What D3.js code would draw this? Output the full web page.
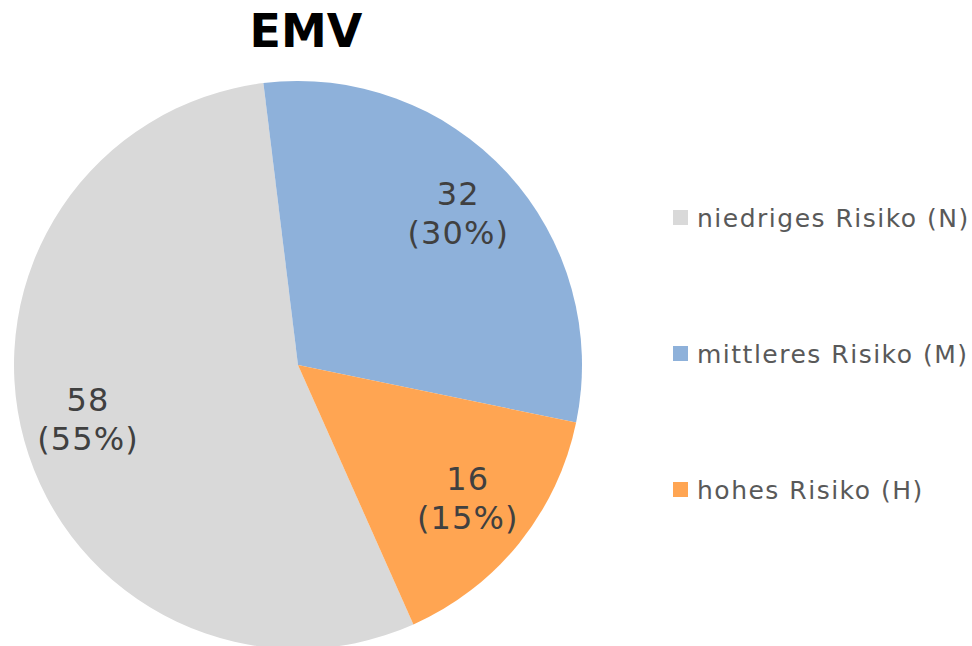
<!DOCTYPE html>
<html>
<head>
<meta charset="utf-8">
<script src="https://cdn.jsdelivr.net/npm/d3@7"></script>
<style>
  html, body { margin: 0; padding: 0; background: #ffffff; }
  svg { display: block; }
</style>
</head>
<body>
<script>
const title = "EMV";
const categories = ["niedriges Risiko (N)", "mittleres Risiko (M)", "hohes Risiko (H)"];
const values = [58, 32, 16];
const colors = ["#D9D9D9", "#8EB1DA", "#FFA552"];

const W = 972, H = 646;
const cx = 298, cy = 365, R = 284;
const FONT = "DejaVu Sans, Verdana, sans-serif";

const svg = d3.select("body").append("svg").attr("width", W).attr("height", H);

svg.append("text")
  .attr("x", 306).attr("y", 47)
  .attr("text-anchor", "middle")
  .attr("font-family", FONT)
  .attr("font-weight", "bold")
  .attr("font-size", 46)
  .attr("fill", "#000")
  .text(title);

const total = d3.sum(values);
const startDeg = 353 - values[0] / total * 360;
const pie = d3.pie().sort(null)
  .startAngle(startDeg * Math.PI / 180)
  .endAngle((startDeg + 360) * Math.PI / 180);
const arcs = pie(values);
const arc = d3.arc().innerRadius(0).outerRadius(R);
const labelArc = d3.arc().innerRadius(152).outerRadius(284);

const g = svg.append("g").attr("transform", `translate(${cx},${cy})`);
g.selectAll("path").data(arcs).join("path")
  .attr("d", arc)
  .attr("fill", (d, i) => colors[i]);

const lbl = g.selectAll("text.lbl").data(arcs).join("text")
  .attr("class", "lbl")
  .attr("text-anchor", "middle")
  .attr("font-family", FONT)
  .attr("font-size", 32)
  .attr("letter-spacing", 1.1)
  .attr("fill", "#404040");
lbl.each(function(d) {
  const [x, y] = labelArc.centroid(d);
  const t = d3.select(this);
  t.append("tspan").attr("x", x).attr("y", y - 12).text(d.value);
  t.append("tspan").attr("x", x).attr("y", y + 27)
    .text("(" + Math.round(d.value / total * 100) + "%)");
});

const legendY = d3.scalePoint().domain(categories).range([218, 490]);
const lg = svg.append("g");
categories.forEach((c, i) => {
  const y = legendY(c);
  lg.append("rect").attr("x", 673).attr("y", y - 8).attr("width", 15).attr("height", 15)
    .attr("fill", colors[i]);
  lg.append("text").attr("x", 697).attr("y", y + 9)
    .attr("font-family", FONT)
    .attr("font-size", 25)
    .attr("letter-spacing", 1.5)
    .attr("fill", "#595959")
    .text(c);
});
</script>
</body>
</html>
